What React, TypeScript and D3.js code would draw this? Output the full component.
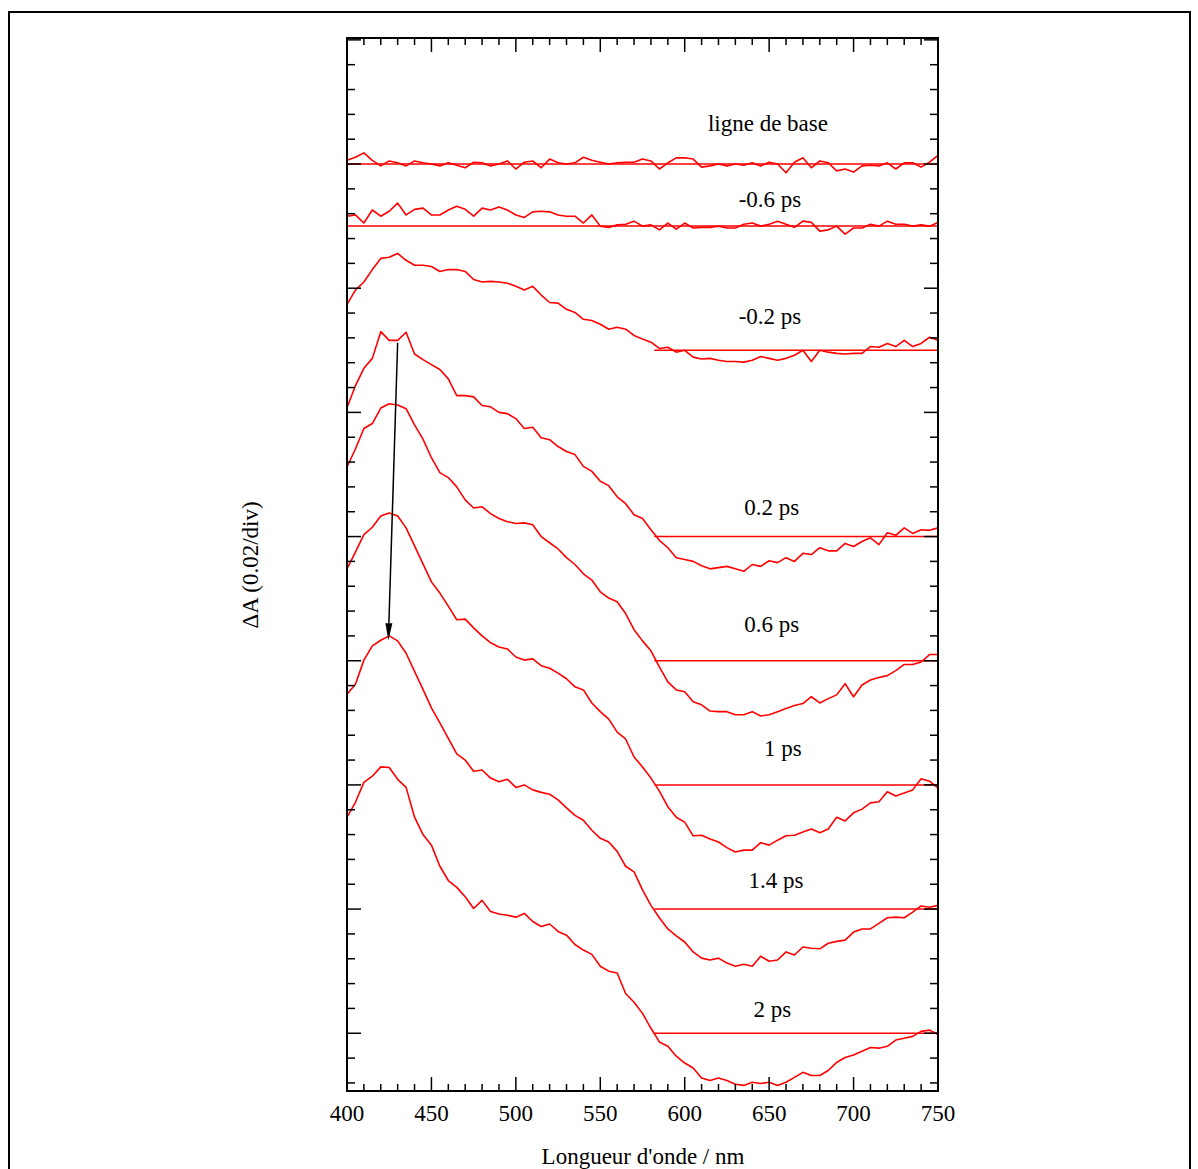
import React from 'react';
import * as d3 from 'd3';

// Wavelength grid (nm)
const wavelengths: number[] = d3.range(400, 751, 5);

const seriesNames = ['ligne de base', '-0.6 ps', '-0.2 ps', '0.2 ps', '0.6 ps', '1 ps', '1.4 ps', '2 ps'];
// vertical offset of each spectrum (ΔA)
const offsets = [0.148, 0.138, 0.118, 0.088, 0.068, 0.048, 0.028, 0.008];

// ΔA values in units of 10^-3, sampled every 5 nm from 400 to 750 nm
const ligneDeBase = [
  0.6, 1.1, 1.8, 0.6, -0.3, 0.5, 0.2, -0.3, 0.5, 0.2,
  0.0, -0.3, 0.2, -0.2, -0.6, 0.3, 0.2, -0.3, 0.0, 0.5,
  -0.8, 0.3, 0.5, -0.6, 0.8, 0.2, 0.0, 0.2, 1.1, 0.6,
  0.3, 0.0, 0.2, 0.3, 0.3, 0.8, 0.5, -0.8, 0.2, 1.0,
  1.0, 0.8, -0.5, -0.3, 0.0, -0.3, 0.0, -0.2, 0.2, -0.3,
  0.3, 0.0, -1.4, 0.3, 1.0, -0.6, 0.5, 0.2, -1.1, -0.8,
  -1.3, -0.3, -0.2, -0.3, 0.2, -0.8, 0.2, 0.2, -0.5, 0.3,
  1.4,
];
const minus06ps = [
  1.6, 1.8, 0.5, 2.6, 1.6, 2.4, 3.7, 1.8, 2.7, 2.9,
  1.8, 1.8, 2.6, 3.2, 2.7, 1.6, 2.9, 2.6, 3.1, 2.6,
  1.8, 1.4, 2.3, 2.4, 2.3, 1.8, 1.6, 1.6, 0.5, 1.8,
  0.0, -0.2, 0.2, 0.3, 0.8, 0.0, 0.2, -0.6, 0.5, -0.5,
  0.5, -0.3, -0.2, -0.2, 0.0, -0.3, -0.3, 0.3, 0.5, 0.0,
  0.3, 0.8, 0.3, -0.2, 0.8, 0.6, -0.8, -0.6, 0.0, -1.3,
  -0.3, -0.3, 0.3, 0.0, 0.8, 0.3, 0.3, 0.0, 0.2, 0.0,
  0.6,
];
const minus02ps = [
  7.4, 9.7, 11.0, 13.0, 14.8, 15.0, 15.6, 14.5, 13.7, 13.7,
  13.5, 12.7, 13.0, 13.0, 12.7, 11.4, 11.0, 11.1, 11.0, 10.8,
  10.3, 9.7, 10.3, 8.9, 7.7, 7.6, 6.6, 6.1, 5.0, 4.8,
  4.2, 3.4, 3.7, 3.4, 2.4, 1.8, 1.3, 0.3, 0.5, -0.3,
  0.0, -1.1, -1.4, -1.3, -1.6, -1.8, -1.8, -1.9, -1.6, -1.0,
  -1.3, -1.6, -1.3, -0.8, 0.0, -1.8, 0.0, -0.3, -0.5, -0.6,
  -0.5, -0.5, 0.6, 0.5, 1.1, 0.6, 1.6, 0.6, 1.1, 2.1,
  1.6,
];
const plus02ps = [
  20.8, 24.3, 27.1, 28.7, 33.0, 31.6, 31.6, 32.9, 29.4, 28.5,
  27.7, 26.9, 25.4, 22.7, 22.7, 22.5, 21.1, 20.9, 20.0, 19.8,
  19.0, 17.4, 17.6, 15.9, 15.6, 14.5, 13.7, 13.2, 11.3, 10.5,
  8.9, 8.2, 6.4, 5.3, 3.5, 2.9, 1.1, -0.6, -1.8, -3.4,
  -3.7, -4.0, -4.7, -5.2, -5.0, -4.8, -5.2, -5.6, -4.5, -4.8,
  -3.9, -4.2, -3.4, -4.0, -2.7, -2.9, -1.8, -2.3, -2.3, -1.1,
  -1.6, -0.8, -0.2, -1.3, 0.6, 0.2, 1.4, 0.5, 1.1, 1.0,
  1.4,
];
const plus06ps = [
  31.2, 34.1, 37.4, 38.2, 40.7, 41.4, 41.2, 40.6, 38.0, 35.7,
  32.7, 30.3, 29.5, 28.0, 25.9, 24.6, 24.8, 23.7, 22.9, 22.4,
  22.1, 22.2, 21.9, 20.0, 19.0, 18.0, 16.6, 15.5, 14.0, 13.0,
  11.1, 10.1, 9.5, 7.6, 5.0, 3.2, 1.6, -1.0, -3.4, -4.7,
  -5.0, -6.6, -7.1, -8.1, -8.2, -8.2, -8.7, -8.7, -8.2, -8.9,
  -8.7, -8.2, -7.7, -7.2, -6.9, -5.8, -6.8, -6.1, -5.5, -3.7,
  -5.8, -3.9, -3.1, -2.7, -2.4, -1.6, -0.6, -0.6, -0.2, 1.0,
  1.0,
];
const plus1ps = [
  34.8, 37.5, 40.3, 41.5, 43.3, 43.8, 43.3, 41.4, 38.5, 35.6,
  32.7, 30.9, 28.8, 26.6, 26.7, 25.3, 24.0, 22.9, 22.2, 21.9,
  20.6, 20.1, 20.3, 19.2, 18.8, 18.0, 17.1, 15.8, 15.3, 13.2,
  11.8, 10.6, 8.5, 7.4, 4.5, 2.9, 1.1, -1.0, -3.5, -5.2,
  -6.0, -8.2, -8.1, -8.7, -9.2, -10.1, -10.8, -10.5, -10.5, -9.3,
  -9.7, -8.9, -8.2, -8.1, -7.6, -7.1, -7.7, -7.1, -5.2, -5.8,
  -4.5, -3.9, -2.9, -2.7, -1.1, -1.8, -1.3, -0.8, 1.0, 0.6,
  -0.5,
];
const plus14ps = [
  34.6, 36.2, 40.1, 42.4, 43.3, 44.0, 43.2, 41.2, 38.3, 35.4,
  32.4, 30.0, 27.5, 25.0, 24.0, 22.2, 22.4, 21.1, 20.5, 20.9,
  19.6, 20.0, 19.2, 18.8, 18.5, 17.6, 16.3, 15.1, 14.3, 12.7,
  11.4, 10.8, 9.3, 6.9, 6.0, 3.1, 0.6, -1.4, -3.2, -4.3,
  -5.3, -6.9, -7.9, -8.2, -7.9, -8.7, -9.2, -8.9, -9.2, -7.6,
  -8.4, -8.2, -6.9, -7.4, -6.1, -6.3, -6.4, -5.5, -5.2, -5.0,
  -3.7, -3.2, -3.2, -2.3, -1.4, -1.3, -1.4, -0.5, 0.5, 0.3,
  0.6,
];
const plus2ps = [
  34.8, 37.2, 40.4, 41.4, 42.9, 42.8, 40.9, 39.6, 34.8, 32.0,
  30.3, 26.9, 24.6, 23.5, 22.0, 20.1, 21.4, 19.6, 19.2, 19.0,
  18.7, 19.3, 18.0, 17.2, 17.6, 16.4, 15.8, 14.3, 13.4, 12.7,
  10.8, 10.0, 9.7, 6.4, 5.0, 3.2, 0.8, -1.4, -2.1, -3.7,
  -4.8, -5.6, -7.2, -7.6, -7.2, -7.6, -8.2, -8.4, -7.9, -8.1,
  -7.9, -8.4, -7.9, -7.1, -6.3, -6.8, -6.8, -6.0, -4.7, -3.9,
  -3.5, -2.9, -2.3, -2.4, -2.1, -1.1, -0.8, -0.5, 0.3, 0.5,
  -0.2,
];
const seriesValues = [ligneDeBase, minus06ps, minus02ps, plus02ps, plus06ps, plus1ps, plus14ps, plus2ps];

// start wavelength of each zero line (nm)
const baselineStart = [400, 400, 582, 582, 582, 582, 582, 582];

// label anchors: [wavelength nm, ΔA above the zero line]
const labelAnchors: [number, number][] = [
  [649.3, 0.00536], [650.5, 0.0030], [650.5, 0.0042], [651.5, 0.00354],
  [651.5, 0.00456], [658.1, 0.00467], [654.0, 0.00333], [651.9, 0.00263],
];

const xMajorTicks = [400, 450, 500, 550, 600, 650, 700, 750];
const xMinorTicks = d3.range(400, 751, 10);
const yTicks = d3.range(0, 43).map((k) => +(0.168 - 0.004 * k).toFixed(3));

const arrowFrom: [number, number] = [430, 0.1192];
const arrowTo: [number, number] = [424.5, 0.0713];

const FONT = "'Liberation Serif', 'Times New Roman', Times, serif";
const FS = 23;

export default function App() {
  const W = 1198;
  const H = 1169;
  const left = 347, right = 938, top = 38, bottom = 1091;
  const x = d3.scaleLinear().domain([400, 750]).range([left, right]);
  const y = d3.scaleLinear().domain([-0.0013, 0.1683]).range([bottom, top]);
  const line = d3.line<[number, number]>().x((d) => x(d[0])).y((d) => y(d[1]));

  const ax1 = x(arrowFrom[0]), ay1 = y(arrowFrom[1]);
  const ax2 = x(arrowTo[0]), ay2 = y(arrowTo[1]);
  const dx = ax2 - ax1, dy = ay2 - ay1;
  const len = Math.sqrt(dx * dx + dy * dy);
  const ux = dx / len, uy = dy / len;
  const headL = 17, headW = 3.5;
  const bx = ax2 - ux * headL, by = ay2 - uy * headL;
  const head = `${ax2},${ay2} ${bx - uy * headW},${by + ux * headW} ${bx + uy * headW},${by - ux * headW}`;

  return (
    <svg width={W} height={H} style={{ position: 'absolute', left: 0, top: 0, background: '#fff' }}>
      <rect x={9} y={12} width={1181} height={1175} fill="none" stroke="#000" strokeWidth={2} />

      {/* spectra */}
      {seriesValues.map((vals, i) => (
        <g key={seriesNames[i]}>
          <line
            x1={x(baselineStart[i])} x2={x(750)}
            y1={y(offsets[i])} y2={y(offsets[i])}
            stroke="#ff0000" strokeWidth={1.5}
          />
          <path
            d={line(vals.map((v, j) => [wavelengths[j], offsets[i] + v / 1000] as [number, number])) || ''}
            fill="none" stroke="#ff0000" strokeWidth={1.6} strokeLinejoin="round"
          />
          <text
            x={x(labelAnchors[i][0])} y={y(offsets[i] + labelAnchors[i][1])}
            textAnchor="middle" fontFamily={FONT} fontSize={FS} fill="#000"
          >{seriesNames[i]}</text>
        </g>
      ))}

      {/* arrow */}
      <line x1={ax1} y1={ay1} x2={bx} y2={by} stroke="#000" strokeWidth={1.5} />
      <polygon points={head} fill="#000" />

      {/* axes frame */}
      <rect x={left} y={top} width={right - left} height={bottom - top} fill="none" stroke="#000" strokeWidth={2} />

      {/* x ticks (bottom & top) */}
      {xMinorTicks.map((t) => {
        const major = t % 50 === 0;
        const L = major ? 14 : 7;
        return (
          <g key={'xt' + t}>
            <line x1={x(t)} x2={x(t)} y1={bottom} y2={bottom - L} stroke="#000" strokeWidth={1.5} />
            <line x1={x(t)} x2={x(t)} y1={top} y2={top + L} stroke="#000" strokeWidth={1.5} />
          </g>
        );
      })}
      {/* y ticks (left & right) */}
      {yTicks.map((t, k) => {
        const major = k % 5 === 0;
        const L = major ? 14 : 8;
        return (
          <g key={'yt' + k}>
            <line x1={left} x2={left + L} y1={y(t)} y2={y(t)} stroke="#000" strokeWidth={1.5} />
            <line x1={right} x2={right - L} y1={y(t)} y2={y(t)} stroke="#000" strokeWidth={1.5} />
          </g>
        );
      })}

      {/* x tick labels */}
      {xMajorTicks.map((t) => (
        <text key={'xl' + t} x={x(t)} y={1121} textAnchor="middle" fontFamily={FONT} fontSize={FS} fill="#000">{t}</text>
      ))}

      <text x={643} y={1164} textAnchor="middle" fontFamily={FONT} fontSize={FS} fill="#000">Longueur d'onde / nm</text>
      <text
        transform="translate(258,565) rotate(-90)"
        textAnchor="middle" fontFamily={FONT} fontSize={FS} fill="#000"
      >ΔA (0.02/div)</text>
    </svg>
  );
}
